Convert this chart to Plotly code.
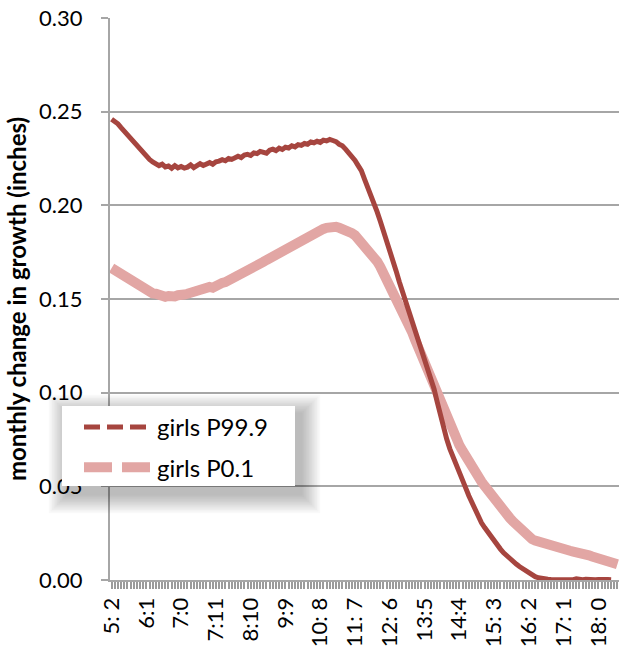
import plotly.graph_objects as go

# Age in months: 5:2 (62 months) through 18:6 (222 months)
age_months = list(range(62, 223))

tick_months = [62, 73, 84, 95, 106, 117, 128, 139, 150, 161, 172, 183, 194, 205, 216]
tick_labels = ["5: 2", "6:1", "7:0", "7:11", "8:10", "9:9", "10: 8", "11: 7",
               "12: 6", "13:5", "14:4", "15: 3", "16: 2", "17: 1", "18: 0"]

y_ticks = [0.00, 0.05, 0.10, 0.15, 0.20, 0.25, 0.30]

girls_p999 = [
    0.2460, 0.2450, 0.2435, 0.2415, 0.2395, 0.2375, 0.2355, 0.2335, 0.2315, 0.2295,
    0.2275, 0.2262, 0.2245, 0.2232, 0.2218, 0.2212, 0.2220, 0.2205, 0.2210, 0.2198,
    0.2212, 0.2200, 0.2207, 0.2199, 0.2204, 0.2216, 0.2201, 0.2210, 0.2222, 0.2213,
    0.2220, 0.2228, 0.2219, 0.2232, 0.2236, 0.2244, 0.2238, 0.2250, 0.2245, 0.2256,
    0.2262, 0.2255, 0.2268, 0.2272, 0.2266, 0.2280, 0.2276, 0.2288, 0.2284, 0.2278,
    0.2294, 0.2300, 0.2292, 0.2305, 0.2298, 0.2310, 0.2306, 0.2318, 0.2312, 0.2324,
    0.2320, 0.2330, 0.2326, 0.2338, 0.2334, 0.2342, 0.2336, 0.2348, 0.2344, 0.2352,
    0.2346, 0.2340, 0.2326, 0.2318, 0.2300, 0.2282, 0.2262, 0.2240, 0.2212, 0.2185,
    0.2140, 0.2100, 0.2060, 0.2012, 0.1965, 0.1915, 0.1865, 0.1810, 0.1760, 0.1705,
    0.1650, 0.1592, 0.1540, 0.1485, 0.1432, 0.1380, 0.1330, 0.1278, 0.1228, 0.1180,
    0.1130, 0.1080, 0.1020, 0.0950, 0.0880, 0.0815, 0.0752, 0.0700, 0.0655, 0.0610,
    0.0572, 0.0530, 0.0492, 0.0450, 0.0410, 0.0370, 0.0336, 0.0305, 0.0280, 0.0255,
    0.0232, 0.0210, 0.0185, 0.0165, 0.0145, 0.0128, 0.0112, 0.0098, 0.0085, 0.0072,
    0.0060, 0.0048, 0.0035, 0.0026, 0.0018, 0.0012, 0.0008, 0.0005, 0.0004, 0.0003,
    0.0002, 0.0003, 0.0002, 0.0004, 0.0002, 0.0003, 0.0002, 0.0006, 0.0003, 0.0002,
    0.0004, 0.0002, 0.0003, 0.0002, 0.0003, 0.0001, 0.0002, 0.0003, 0.0002, None, None,
]

girls_p001 = [
    0.1665, 0.1655, 0.1645, 0.1632, 0.1622, 0.1610, 0.1598, 0.1585, 0.1572, 0.1562,
    0.1552, 0.1545, 0.1538, 0.1530, 0.1528, 0.1520, 0.1518, 0.1512, 0.1516, 0.1510,
    0.1514, 0.1520, 0.1516, 0.1524, 0.1528, 0.1534, 0.1532, 0.1540, 0.1546, 0.1552,
    0.1558, 0.1564, 0.1560, 0.1572, 0.1578, 0.1586, 0.1590, 0.1598, 0.1604, 0.1612,
    0.1620, 0.1632, 0.1640, 0.1652, 0.1660, 0.1670, 0.1678, 0.1688, 0.1698, 0.1708,
    0.1718, 0.1728, 0.1736, 0.1748, 0.1756, 0.1766, 0.1774, 0.1786, 0.1796, 0.1806,
    0.1814, 0.1826, 0.1834, 0.1842, 0.1852, 0.1860, 0.1866, 0.1874, 0.1880, 0.1886,
    0.1888, 0.1885, 0.1880, 0.1876, 0.1866, 0.1860, 0.1852, 0.1840, 0.1822, 0.1800,
    0.1782, 0.1765, 0.1748, 0.1725, 0.1700, 0.1672, 0.1640, 0.1605, 0.1570, 0.1540,
    0.1505, 0.1472, 0.1438, 0.1400, 0.1365, 0.1325, 0.1282, 0.1240, 0.1195, 0.1152,
    0.1108, 0.1064, 0.1020, 0.0978, 0.0938, 0.0898, 0.0860, 0.0822, 0.0786, 0.0752,
    0.0720, 0.0690, 0.0658, 0.0628, 0.0600, 0.0575, 0.0550, 0.0525, 0.0502, 0.0478,
    0.0455, 0.0432, 0.0410, 0.0388, 0.0366, 0.0348, 0.0330, 0.0312, 0.0295, 0.0280,
    0.0258, 0.0242, 0.0228, 0.0218, 0.0210, 0.0204, 0.0196, 0.0190, 0.0186, 0.0182,
    0.0176, 0.0170, 0.0166, 0.0162, 0.0160, 0.0156, 0.0152, 0.0150, 0.0146, 0.0144,
    0.0138, 0.0132, 0.0126, 0.0120, 0.0114, 0.0110, 0.0104, 0.0098, 0.0092, 0.0088, 0.0084,
]

RED = "#A6453F"
PINK = "#E2A6A4"
GRID = "#A6A6A6"
FONT = "Lato, 'Open Sans', sans-serif"

W, H = 619, 657
M_L, M_R, M_T, M_B = 110, 0, 18, 77
plot_w = W - M_L - M_R
plot_h = H - M_T - M_B


def px_to_paper(x, y):
    return (x - M_L) / plot_w, (H - M_B - y) / plot_h


# one tick mark per month, a label every 11 months
label_for = dict(zip(tick_months, tick_labels))
all_tick_text = [label_for.get(m, "") for m in age_months]

fig = go.Figure()

# data lines (drawn solid; the legend entries use dashed samples)
fig.add_trace(go.Scatter(x=age_months, y=girls_p001, mode="lines",
                         line=dict(color=PINK, width=10), showlegend=False,
                         name="girls P0.1"))
fig.add_trace(go.Scatter(x=age_months, y=girls_p999, mode="lines",
                         line=dict(color=RED, width=5), showlegend=False,
                         name="girls P99.9"))

# legend samples
fig.add_trace(go.Scatter(x=[None], y=[None], mode="lines", name="girls P99.9",
                         line=dict(color=RED, width=5, dash="16px,7px"),
                         legendgroup="a"))
fig.add_trace(go.Scatter(x=[None], y=[None], mode="lines", name="girls P0.1",
                         line=dict(color=PINK, width=10, dash="28px,10px"),
                         legendgroup="b"))

# legend box with a soft drop shadow
box = (62, 406, 295, 486)
shapes = []
n_layers = 12
for k in range(n_layers, 0, -1):
    s = k * 1.6
    x0, y0 = px_to_paper(box[0] - s + 6, box[1] - s + 8)
    x1, y1 = px_to_paper(box[2] + s + 6, box[3] + s + 8)
    shapes.append(dict(type="rect", xref="paper", yref="paper",
                       x0=x0, y0=y1, x1=x1, y1=y0, layer="above",
                       line=dict(width=0), fillcolor="rgba(0,0,0,0.024)"))
bx0, by0 = px_to_paper(box[0], box[1])
bx1, by1 = px_to_paper(box[2], box[3])
shapes.append(dict(type="rect", xref="paper", yref="paper",
                   x0=bx0, y0=by1, x1=bx1, y1=by0, layer="above",
                   line=dict(width=0), fillcolor="white"))

lx, ly = px_to_paper(79, 405)

fig.update_layout(
    width=W, height=H,
    margin=dict(l=M_L, r=M_R, t=M_T, b=M_B),
    paper_bgcolor="white", plot_bgcolor="white",
    font=dict(family=FONT, color="black", size=22),
    shapes=shapes,
    showlegend=True,
    legend=dict(x=lx, y=ly, xanchor="left", yanchor="top",
                bgcolor="rgba(0,0,0,0)", borderwidth=0,
                font=dict(size=24, family=FONT), tracegroupgap=6,
                itemwidth=68),
    xaxis=dict(
        range=[61.5, 222.5],
        tickmode="array", tickvals=age_months, ticktext=all_tick_text,
        tickangle=-90, ticks="outside", ticklen=7, tickcolor="#9A9A9A",
        tickwidth=1.5, tickfont=dict(size=22),
        showgrid=False, zeroline=False,
        showline=True, linecolor=GRID, linewidth=2,
    ),
    yaxis=dict(
        range=[0, 0.30],
        tickmode="array", tickvals=y_ticks,
        tickformat=".2f", tickfont=dict(size=22),
        ticks="outside", ticklen=7, tickcolor=GRID, tickwidth=2,
        ticklabelstandoff=14,
        showgrid=True, gridcolor=GRID, gridwidth=2,
        zeroline=False,
        showline=True, linecolor=GRID, linewidth=2,
        title=dict(text="<b>monthly change in growth (inches)</b>",
                   font=dict(size=24, family=FONT), standoff=6),
    ),
)

fig.write_html("out.html")
